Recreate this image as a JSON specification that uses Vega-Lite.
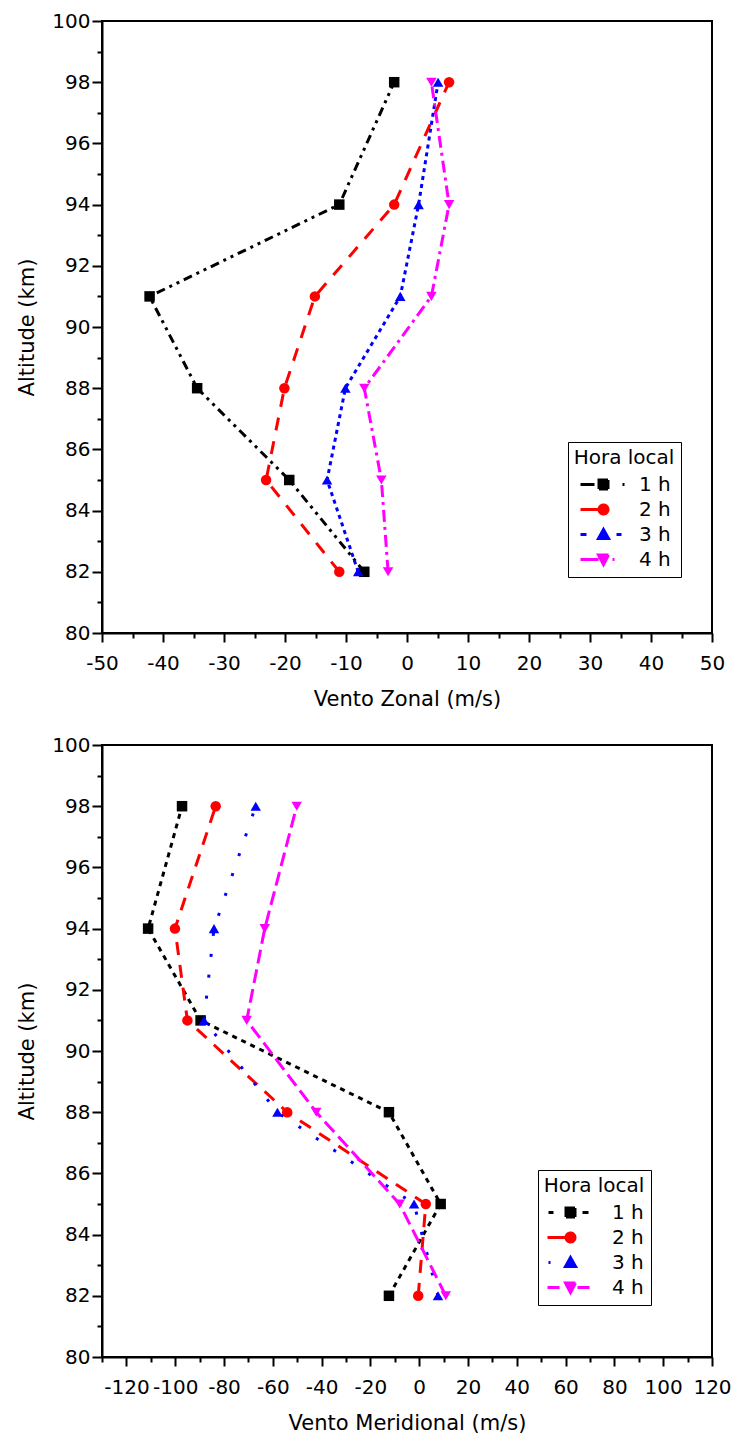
{
  "$schema": "https://vega.github.io/schema/vega-lite/v6.json",
  "background": "white",
  "padding": {"left": 15, "top": 10, "right": 5, "bottom": 5},
  "spacing": 24,
  "resolve": {
    "scale": {"color": "independent", "shape": "independent", "strokeDash": "independent"},
    "legend": {"color": "independent", "shape": "independent", "strokeDash": "independent"}
  },
  "config": {
    "font": "DejaVu Sans",
    "view": {"stroke": "black", "strokeWidth": 2},
    "axis": {
      "grid": false,
      "domainColor": "black",
      "domainWidth": 2,
      "tickColor": "black",
      "tickWidth": 2,
      "labelColor": "black",
      "labelFont": "DejaVu Sans",
      "labelFontSize": 20,
      "titleFont": "DejaVu Sans",
      "titleFontSize": 21,
      "titleFontWeight": "normal",
      "titleColor": "black",
      "labelFlush": false,
      "labelOverlap": false
    },
    "legend": {
      "labelFont": "DejaVu Sans",
      "labelFontSize": 20,
      "labelColor": "black",
      "titleFont": "DejaVu Sans",
      "titleFontSize": 20,
      "titleFontWeight": "normal",
      "titleColor": "black"
    }
  },
  "datasets": {
    "zonal": [
      {"hora": "1 h", "alt": 98, "u": -2.1},
      {"hora": "1 h", "alt": 94, "u": -11.1},
      {"hora": "1 h", "alt": 91, "u": -42.2},
      {"hora": "1 h", "alt": 88, "u": -34.4},
      {"hora": "1 h", "alt": 85, "u": -19.3},
      {"hora": "1 h", "alt": 82, "u": -7.0},
      {"hora": "2 h", "alt": 98, "u": 6.9},
      {"hora": "2 h", "alt": 94, "u": -2.1},
      {"hora": "2 h", "alt": 91, "u": -15.1},
      {"hora": "2 h", "alt": 88, "u": -20.1},
      {"hora": "2 h", "alt": 85, "u": -23.1},
      {"hora": "2 h", "alt": 82, "u": -11.1},
      {"hora": "3 h", "alt": 98, "u": 5.1},
      {"hora": "3 h", "alt": 94, "u": 1.9},
      {"hora": "3 h", "alt": 91, "u": -1.1},
      {"hora": "3 h", "alt": 88, "u": -10.1},
      {"hora": "3 h", "alt": 85, "u": -13.1},
      {"hora": "3 h", "alt": 82, "u": -8.0},
      {"hora": "4 h", "alt": 98, "u": 4.0},
      {"hora": "4 h", "alt": 94, "u": 6.9},
      {"hora": "4 h", "alt": 91, "u": 4.0},
      {"hora": "4 h", "alt": 88, "u": -7.0},
      {"hora": "4 h", "alt": 85, "u": -4.2},
      {"hora": "4 h", "alt": 82, "u": -3.1}
    ],
    "meridional": [
      {"hora": "1 h", "alt": 98, "v": -97.2},
      {"hora": "1 h", "alt": 94, "v": -111.1},
      {"hora": "1 h", "alt": 91, "v": -89.6},
      {"hora": "1 h", "alt": 88, "v": -12.4},
      {"hora": "1 h", "alt": 85, "v": 8.8},
      {"hora": "1 h", "alt": 82, "v": -12.4},
      {"hora": "2 h", "alt": 98, "v": -83.4},
      {"hora": "2 h", "alt": 94, "v": -100.1},
      {"hora": "2 h", "alt": 91, "v": -95.0},
      {"hora": "2 h", "alt": 88, "v": -54.1},
      {"hora": "2 h", "alt": 85, "v": 2.7},
      {"hora": "2 h", "alt": 82, "v": -0.4},
      {"hora": "3 h", "alt": 98, "v": -67.0},
      {"hora": "3 h", "alt": 94, "v": -84.1},
      {"hora": "3 h", "alt": 91, "v": -88.2},
      {"hora": "3 h", "alt": 88, "v": -58.1},
      {"hora": "3 h", "alt": 85, "v": -2.1},
      {"hora": "3 h", "alt": 82, "v": 7.7},
      {"hora": "4 h", "alt": 98, "v": -50.2},
      {"hora": "4 h", "alt": 94, "v": -63.3},
      {"hora": "4 h", "alt": 91, "v": -70.7},
      {"hora": "4 h", "alt": 88, "v": -42.2},
      {"hora": "4 h", "alt": 85, "v": -8.0},
      {"hora": "4 h", "alt": 82, "v": 10.9}
    ]
  },
  "vconcat": [
    {
      "width": 610,
      "height": 612,
      "data": {"name": "zonal"},
      "resolve": {"axis": {"x": "independent", "y": "independent"}},
      "layer": [
        {
          "mark": {"type": "line", "strokeWidth": 3},
          "encoding": {
            "x": {"field": "u", "type": "quantitative",
              "scale": {"domain": [-50, 50], "nice": false, "zero": false},
              "axis": {"orient": "bottom", "title": "Vento Zonal (m/s)", "values": [-50, -40, -30, -20, -10, 0, 10, 20, 30, 40, 50], "labelExpr": "'' + datum.value", "tickSize": 9, "labelPadding": 11, "titlePadding": 15}},
            "y": {"field": "alt", "type": "quantitative",
              "scale": {"domain": [80, 100], "nice": false, "zero": false},
              "axis": {"orient": "left", "title": "Altitude (km)", "values": [80, 82, 84, 86, 88, 90, 92, 94, 96, 98, 100], "tickSize": 10, "labelPadding": 2, "titlePadding": 14}},
            "color": {"field": "hora", "type": "nominal",
              "scale": {"domain": ["1 h", "2 h", "3 h", "4 h"], "range": ["#000000", "#ff0000", "#0000ff", "#ff00ff"]},
              "legend": {
                "title": "Hora local", "orient": "none", "legendX": 466, "legendY": 421,
                "titleAnchor": "middle", "strokeColor": "black", "padding": 6,
                "symbolSize": 400, "symbolStrokeWidth": 3, "symbolOffset": 14, "labelOffset": 24, "rowPadding": 3,
                "encode": {
                  "symbols": {
                    "update": {
                    "shape": {"signal": "datum.value == '1 h' ? 'M-2.3,0H-0.9M-0.45,-0.45H0.45V0.45H-0.45ZM1.9,0H2.1' : datum.value == '2 h' ? 'M-2.3,0H-0.5M0.45,0A0.45,0.45,0,1,1,-0.45,0A0.45,0.45,0,1,1,0.45,0Z' : datum.value == '3 h' ? 'M-2.3,0H-1.7M0,-0.5L0.5,0.4H-0.5ZM1.3,0H1.8' : 'M-2.3,0H-0.5M-0.5,-0.45H0.5L0,0.5ZM0.9,0H1.1'"},
                    "fill": {"signal": "datum.value == '1 h' ? '#000000' : datum.value == '2 h' ? '#ff0000' : datum.value == '3 h' ? '#0000ff' : '#ff00ff'"},
                    "stroke": {"signal": "datum.value == '1 h' ? '#000000' : datum.value == '2 h' ? '#ff0000' : datum.value == '3 h' ? '#0000ff' : '#ff00ff'"},
                    "strokeDash": {"value": [1, 0]},
                    "opacity": {"value": 1}
                    }
                  }
                }
              }},
            "strokeDash": {"field": "hora", "type": "nominal", "legend": null,
              "scale": {"range": [[9, 5, 3, 5, 3, 5], [13, 11], [4, 4], [12, 5, 3, 5]]}},
            "order": {"field": "alt", "type": "quantitative"}
          }
        },
        {
          "mark": {"type": "point", "filled": true, "size": 110, "opacity": 1},
          "encoding": {
            "x": {"field": "u", "type": "quantitative",
              "axis": {"orient": "bottom", "title": null, "labels": false, "domain": false, "values": [-45, -35, -25, -15, -5, 5, 15, 25, 35, 45], "tickSize": 5}},
            "y": {"field": "alt", "type": "quantitative",
              "axis": {"orient": "left", "title": null, "labels": false, "domain": false, "values": [81, 83, 85, 87, 89, 91, 93, 95, 97, 99], "tickSize": 5}},
            "color": {"field": "hora", "type": "nominal"},
            "shape": {"field": "hora", "type": "nominal", "legend": null,
              "scale": {"range": ["square", "circle", "triangle-up", "triangle-down"]}}
          }
        }
      ]
    },
    {
      "width": 610,
      "height": 612,
      "data": {"name": "meridional"},
      "resolve": {"axis": {"x": "independent", "y": "independent"}},
      "layer": [
        {
          "mark": {"type": "line", "strokeWidth": 3},
          "encoding": {
            "x": {"field": "v", "type": "quantitative",
              "scale": {"domain": [-130, 120], "nice": false, "zero": false},
              "axis": {"orient": "bottom", "title": "Vento Meridional (m/s)", "values": [-120, -100, -80, -60, -40, -20, 0, 20, 40, 60, 80, 100, 120], "labelExpr": "'' + datum.value", "tickSize": 9, "labelPadding": 11, "titlePadding": 15}},
            "y": {"field": "alt", "type": "quantitative",
              "scale": {"domain": [80, 100], "nice": false, "zero": false},
              "axis": {"orient": "left", "title": "Altitude (km)", "values": [80, 82, 84, 86, 88, 90, 92, 94, 96, 98, 100], "tickSize": 10, "labelPadding": 2, "titlePadding": 14}},
            "color": {"field": "hora", "type": "nominal",
              "scale": {"domain": ["1 h", "2 h", "3 h", "4 h"], "range": ["#000000", "#ff0000", "#0000ff", "#ff00ff"]},
              "legend": {
                "title": "Hora local", "orient": "none", "legendX": 436, "legendY": 425,
                "titleAnchor": "middle", "strokeColor": "black", "padding": 6,
                "symbolSize": 400, "symbolStrokeWidth": 3, "symbolOffset": 14, "labelOffset": 30, "rowPadding": 3,
                "encode": {
                  "symbols": {
                    "update": {
                    "shape": {"signal": "datum.value == '1 h' ? 'M-2.2,0H-1.7M-0.45,-0.45H0.45V0.45H-0.45ZM1.2,0H1.8' : datum.value == '2 h' ? 'M-2.3,0H-0.5M0.45,0A0.45,0.45,0,1,1,-0.45,0A0.45,0.45,0,1,1,0.45,0Z' : datum.value == '3 h' ? 'M-2.2,0H-2.0M0,-0.5L0.5,0.4H-0.5Z' : 'M-2.3,0H-1.1M-0.5,-0.45H0.5L0,0.5ZM0.7,0H1.9'"},
                    "fill": {"signal": "datum.value == '1 h' ? '#000000' : datum.value == '2 h' ? '#ff0000' : datum.value == '3 h' ? '#0000ff' : '#ff00ff'"},
                    "stroke": {"signal": "datum.value == '1 h' ? '#000000' : datum.value == '2 h' ? '#ff0000' : datum.value == '3 h' ? '#0000ff' : '#ff00ff'"},
                    "strokeDash": {"value": [1, 0]},
                    "opacity": {"value": 1}
                    }
                  }
                }
              }},
            "strokeDash": {"field": "hora", "type": "nominal", "legend": null,
              "scale": {"range": [[5, 5], [13, 10], [3, 18], [14, 6]]}},
            "order": {"field": "alt", "type": "quantitative"}
          }
        },
        {
          "mark": {"type": "point", "filled": true, "size": 110, "opacity": 1},
          "encoding": {
            "x": {"field": "v", "type": "quantitative",
              "axis": {"orient": "bottom", "title": null, "labels": false, "domain": false, "values": [-130, -110, -90, -70, -50, -30, -10, 10, 30, 50, 70, 90, 110], "tickSize": 5}},
            "y": {"field": "alt", "type": "quantitative",
              "axis": {"orient": "left", "title": null, "labels": false, "domain": false, "values": [81, 83, 85, 87, 89, 91, 93, 95, 97, 99], "tickSize": 5}},
            "color": {"field": "hora", "type": "nominal"},
            "shape": {"field": "hora", "type": "nominal", "legend": null,
              "scale": {"range": ["square", "circle", "triangle-up", "triangle-down"]}}
          }
        }
      ]
    }
  ]
}
